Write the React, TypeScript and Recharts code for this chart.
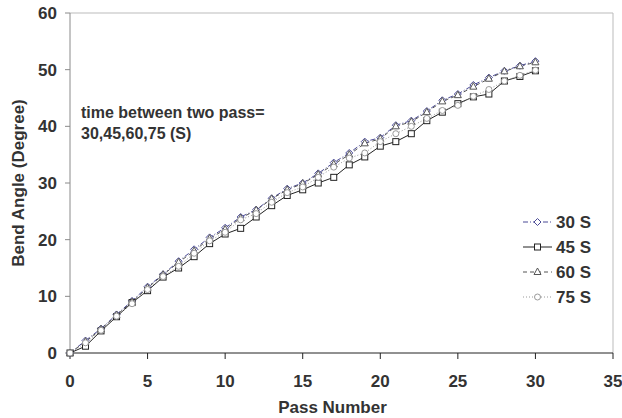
import { Customized, Label, Line, LineChart, ReferenceLine, XAxis, YAxis } from 'recharts'

const passes = [0, 1, 2, 3, 4, 5, 6, 7, 8, 9, 10, 11, 12, 13, 14, 15, 16, 17, 18, 19, 20, 21, 22, 23, 24, 25, 26, 27, 28, 29, 30]
const s30 = [0, 2.2, 4.3, 6.8, 9.2, 11.7, 13.9, 16.2, 18.3, 20.4, 22.1, 24.0, 25.3, 27.3, 29.0, 30.0, 31.7, 33.6, 35.3, 37.3, 38.0, 40.2, 41.0, 42.7, 44.6, 45.7, 47.3, 48.6, 49.8, 50.7, 51.5]
const s45 = [0, 1.2, 3.9, 6.4, 8.9, 11.0, 13.4, 15.0, 17.0, 19.3, 21.0, 22.0, 24.0, 26.0, 27.8, 28.8, 30.0, 31.0, 33.2, 34.6, 36.5, 37.3, 38.7, 41.0, 42.5, 44.0, 45.2, 45.7, 48.0, 48.8, 49.8]
const s60 = [0, 2.0, 4.2, 6.7, 9.0, 11.5, 13.8, 16.0, 18.0, 20.2, 21.8, 23.8, 25.2, 27.2, 28.8, 29.9, 31.5, 33.3, 35.0, 37.0, 37.8, 40.0, 40.8, 42.5, 44.4, 45.5, 47.0, 48.4, 49.7, 50.6, 51.3]
const s75 = [0, 1.8, 4.0, 6.5, 8.7, 11.2, 13.5, 15.3, 17.6, 19.8, 21.3, 23.5, 24.6, 26.6, 28.3, 29.3, 31.0, 32.8, 34.4, 35.3, 37.3, 38.7, 40.0, 41.4, 42.8, 43.7, 45.3, 46.5, 48.0, 49.0, 49.9]

const xTicks = [0, 5, 10, 15, 20, 25, 30, 35]
const yTicks = [0, 10, 20, 30, 40, 50, 60]
const note = ['time between two pass=', '30,45,60,75 (S)']

const data = passes.map((p, i) => ({ pass: p, s30: s30[i], s45: s45[i], s60: s60[i], s75: s75[i] }))

const FONT = '"Liberation Sans", Arial, sans-serif'
const TEXT = '#333'

type Shape = 'diamond' | 'square' | 'triangle' | 'circle'

const series: { key: string; name: string; color: string; dash?: string; shape: Shape }[] = [
  { key: 's30', name: '30 S', color: '#4b4b96', dash: '5 2 1 2', shape: 'diamond' },
  { key: 's45', name: '45 S', color: '#222', shape: 'square' },
  { key: 's60', name: '60 S', color: '#555', dash: '4 3', shape: 'triangle' },
  { key: 's75', name: '75 S', color: '#9a9a9a', dash: '1 2', shape: 'circle' },
]

function Marker({ shape, cx, cy, color }: { shape: Shape; cx: number; cy: number; color: string }) {
  const common = { fill: '#fff', stroke: color, strokeWidth: 1 }
  if (shape === 'square') return <rect x={cx - 3} y={cy - 3} width={6} height={6} {...common} />
  if (shape === 'diamond') return <path d={`M${cx},${cy - 3.5}L${cx + 3.5},${cy}L${cx},${cy + 3.5}L${cx - 3.5},${cy}Z`} {...common} />
  if (shape === 'triangle') return <path d={`M${cx},${cy - 4}L${cx + 3.5},${cy + 2.5}L${cx - 3.5},${cy + 2.5}Z`} {...common} />
  return <circle cx={cx} cy={cy} r={3} {...common} />
}

// legend and note drawn straight into the svg so no space is reserved for them
function Overlay() {
  return (
    <g fontFamily={FONT} fontWeight={700} fill={TEXT}>
      <text x={81} y={118} fontSize={16}>
        <tspan x={81}>{note[0]}</tspan>
        <tspan x={81} dy={21}>{note[1]}</tspan>
      </text>
      {series.map((s, i) => {
        const y = 222 + i * 25
        return (
          <g key={s.key}>
            <line x1={523} y1={y} x2={552} y2={y} stroke={s.color} strokeDasharray={s.dash} />
            <Marker shape={s.shape} cx={537.5} cy={y} color={s.color} />
            <text x={556} y={y + 6} fontSize={17}>{s.name}</text>
          </g>
        )
      })}
    </g>
  )
}

export default function App() {
  return (
    <div style={{ position: 'absolute', left: 0, top: 0, background: '#fff' }}>
      <LineChart width={622} height={418} data={data} margin={{ top: 13, right: 9, left: 0, bottom: 0 }}>
        <XAxis
          dataKey="pass"
          type="number"
          domain={[0, 35]}
          ticks={xTicks}
          height={65}
          stroke="#222"
          tickSize={6}
          tickMargin={16}
          tick={{ fill: TEXT, fontSize: 17, fontWeight: 700, fontFamily: FONT }}
        >
          <Label value="Pass Number" position="insideBottom" offset={5} dx={-9} style={{ fill: TEXT, fontSize: 17, fontWeight: 700, fontFamily: FONT }} />
        </XAxis>
        <YAxis
          type="number"
          domain={[0, 60]}
          ticks={yTicks}
          width={70}
          stroke="#8a8a8a"
          tickSize={5}
          tickMargin={8}
          tick={{ fill: TEXT, fontSize: 17, fontWeight: 700, fontFamily: FONT }}
        >
          <Label
            value="Bend Angle (Degree)"
            angle={-90}
            position="insideLeft"
            offset={18}
            style={{ textAnchor: 'middle', fill: TEXT, fontSize: 17, fontWeight: 700, fontFamily: FONT }}
          />
        </YAxis>
        <ReferenceLine y={60} stroke="#bbb" />
        <ReferenceLine x={35} stroke="#bbb" />
        {series.map((s) => (
          <Line
            key={s.key}
            dataKey={s.key}
            name={s.name}
            stroke={s.color}
            strokeWidth={1}
            strokeDasharray={s.dash}
            isAnimationActive={false}
            dot={(p: any) => <Marker key={`${s.key}-${p.index}`} shape={s.shape} cx={p.cx} cy={p.cy} color={s.color} />}
            activeDot={false}
          />
        ))}
        <Customized component={Overlay} />
      </LineChart>
    </div>
  )
}
